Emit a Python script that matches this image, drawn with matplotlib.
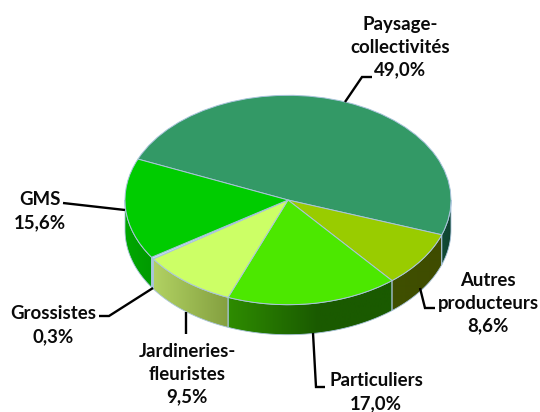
import numpy as np
import matplotlib
matplotlib.use("Agg")
import matplotlib.pyplot as plt
from matplotlib.colors import to_rgb
from matplotlib.patches import Polygon

categories = ["Paysage-\ncollectivités", "Autres\nproducteurs", "Particuliers",
              "Jardineries-\nfleuristes", "Grossistes", "GMS"]
values = [49.0, 8.6, 17.0, 9.5, 0.3, 15.6]
top_colors = ["#339966", "#99CC00", "#4CE800", "#CCFF66", "#C8E4F0", "#00CC00"]
wall_left = ["#124A34", "#3F5000", "#2E8C00", "#B2D263", "#A9C4DC", "#00A800"]
wall_right = ["#0F4230", "#3F4C00", "#1A5A00", "#84A040", "#A9C4DC", "#009A00"]
wall_stop = [1.0, 1.0, 0.55, 1.0, 1.0, 1.0]
label_xy = [(400, 47), (488, 303), (376, 392), (187, 374), (53, 325), (40, 211)]
leaders = [[(345, 102), (362, 77), (372, 77)],
           [(420, 288), (425, 308), (435, 308)],
           [(313, 333), (316, 387), (325, 387)],
           [(186, 312), (186, 334)],
           [(153, 288), (109, 316), (99, 316)],
           [(125, 210), (63, 203)]]

W, H = 540, 412
CX, CY, RX, RY, DEPTH = 288, 200, 163, 104.7, 30
START = 157
EDGE = "#A9C4DC"

fig = plt.figure(figsize=(W / 100, H / 100), dpi=100)
ax = fig.add_axes([0, 0, 1, 1])
ax.pie(values, colors=top_colors, startangle=START, counterclock=False, radius=1,
       wedgeprops=dict(edgecolor=EDGE, linewidth=0.7, zorder=5))
ax.set_aspect("auto")
xlim = (-CX / RX, (W - CX) / RX)
ylim = (-(H - CY) / RY, CY / RY)
d = DEPTH / RY

# side wall, angles derived from the values
ang = START
for v, cl, cr, stop in zip(values, wall_left, wall_right, wall_stop):
    a0, a1 = ang - v * 3.6, ang
    ang = a0
    lo0, hi0 = a0 % 360, (a0 % 360) + (a1 - a0)
    lo, hi = max(lo0, 180), min(hi0, 360)
    if hi <= lo:
        lo0 -= 360
        hi0 -= 360
        lo, hi = max(lo0, 180), min(hi0, 360)
    if hi <= lo:
        continue
    t = np.radians(np.linspace(lo, hi, 80))
    x, y = np.cos(t), np.sin(t)
    poly = np.r_[np.c_[x, y], np.c_[x[::-1], y[::-1] - d]]
    f = np.clip(np.arange(100) / (99 * stop), 0, 1)[:, None]
    grad = (np.array(to_rgb(cl)) * (1 - f) + np.array(to_rgb(cr)) * f)[None, :, :]
    im = ax.imshow(grad, extent=(x.min(), x.max(), -2, 2), aspect="auto", zorder=2,
                   interpolation="bilinear")
    patch = Polygon(poly, closed=True, transform=ax.transData, facecolor="none", edgecolor="none")
    ax.add_patch(patch)
    im.set_clip_path(patch)
    ax.add_patch(Polygon(poly, closed=True, facecolor="none", edgecolor=EDGE, linewidth=0.6, zorder=3))

ax.set_xlim(*xlim)
ax.set_ylim(*ylim)
ax.set_axis_off()

ov = fig.add_axes([0, 0, 1, 1], facecolor="none")
ov.set_xlim(0, W)
ov.set_ylim(H, 0)
ov.set_axis_off()
for cat, v, (lx, ly), pts in zip(categories, values, label_xy, leaders):
    txt = f"{cat}\n{v:.1f}%".replace(".", ",")
    ov.text(lx, ly, txt, ha="center", va="center", family="Lato", weight="bold",
            fontsize=13.4, color="#0A0A0A", linespacing=1.42)
    ov.plot(*zip(*pts), color="black", lw=1.7, solid_joinstyle="miter", solid_capstyle="butt")

fig.savefig("out.png", dpi=100)
